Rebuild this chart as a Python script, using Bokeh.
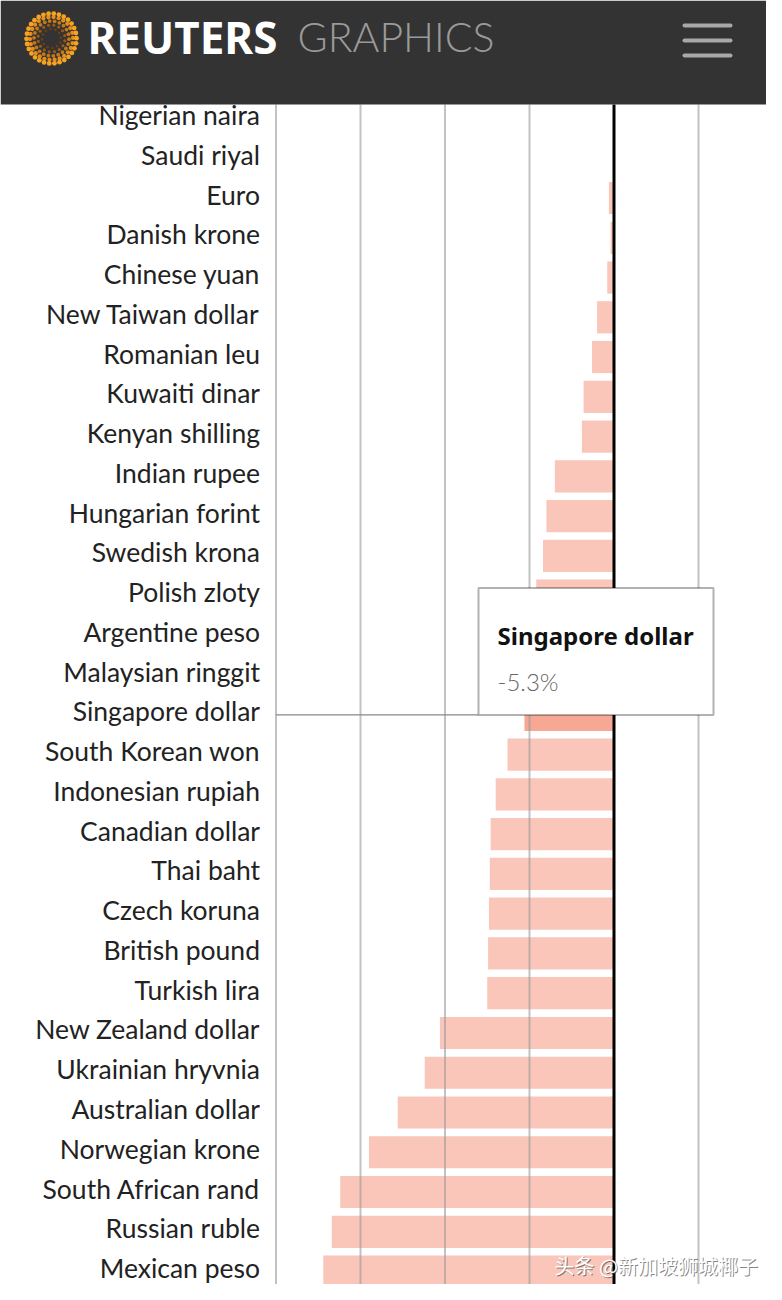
import numpy as np
from bokeh.plotting import figure
from bokeh.models import Range1d, BoxAnnotation, Label, ColumnDataSource
from bokeh.core.properties import value
from bokeh.embed import file_html
from bokeh.resources import INLINE

# ---------------- data ----------------
categories = [
    "Nigerian naira", "Saudi riyal", "Euro", "Danish krone", "Chinese yuan",
    "New Taiwan dollar", "Romanian leu", "Kuwaiti dinar", "Kenyan shilling",
    "Indian rupee", "Hungarian forint", "Swedish krona", "Polish zloty",
    "Argentine peso", "Malaysian ringgit", "Singapore dollar", "South Korean won",
    "Indonesian rupiah", "Canadian dollar", "Thai baht", "Czech koruna",
    "British pound", "Turkish lira", "New Zealand dollar", "Ukrainian hryvnia",
    "Australian dollar", "Norwegian krone", "South African rand", "Russian ruble",
    "Mexican peso",
]
values = [
    0.0, 0.0, -0.3, -0.2, -0.4,
    -1.0, -1.3, -1.8, -1.9,
    -3.5, -4.0, -4.2, -4.6,
    -4.9, -5.1, -5.3, -6.3,
    -7.0, -7.3, -7.35, -7.4,
    -7.45, -7.5, -10.3, -11.2,
    -12.8, -14.5, -16.2, -16.7,
    -17.2,
]
grid_ticks = [-20, -15, -10, -5, 5]
highlight = "Singapore dollar"

BAR = "#f9c6b9"
BAR_HI = "#f6a894"

W, H = 766, 1284
PX = 16.9            # pixels per percentage point
ZERO_PX = 621.5      # page x of the zero line
ROW0_PX = 126.0      # page y of the first row centre
ROW_PX = 39.76       # pixels per row
HEADER_BOTTOM = 112  # page y where the header ends


def sx(px):  # page x -> data x
    return (px - ZERO_PX) / PX


def sy(py):  # page y -> row units
    return (py - ROW0_PX) / ROW_PX


x0, x1 = sx(8), sx(8 + W)
y_top, y_bot = sy(8), sy(8 + H)

p = figure(width=W, height=H, x_range=Range1d(x0, x1), y_range=Range1d(y_bot, y_top),
           output_backend="svg", toolbar_location=None, min_border=0,
           background_fill_color="white", border_fill_color="white")
p.outline_line_color = None
p.axis.visible = False
p.grid.visible = False

idx = list(range(len(categories)))
colors = [BAR_HI if c == highlight else BAR for c in categories]
src = ColumnDataSource(dict(y=idx, left=values, right=[0] * len(values), color=colors,
                            name=categories))

# bars
p.hbar(y="y", left="left", right="right", height=0.81, fill_color="color",
       line_color=None, source=src)

# vertical grid lines (drawn above bars, like the original)
chart_top = sy(HEADER_BOTTOM)
p.segment(x0=grid_ticks, x1=grid_ticks, y0=[chart_top] * len(grid_ticks),
          y1=[y_bot] * len(grid_ticks), line_color="#999999", line_alpha=0.6, line_width=2)
# zero line
p.segment(x0=[0], x1=[0], y0=[chart_top], y1=[y_bot], line_color="black", line_width=3)

# category labels
p.text(x=grid_ticks[0], y="y", text="name", source=src, x_offset=-16, y_offset=-3.5,
       text_align="right", text_baseline="middle", text_font=value("Lato"),
       text_font_size="26.5px", text_color="#222222")

# ---------------- header ----------------
p.quad(left=[x0], right=[x1], top=[y_top], bottom=[chart_top], fill_color="#333333",
       line_color=None)

cx, cy = 59, 46
lx, ly, ls, lc = [], [], [], []
ring_r = [9.5, 13.5, 17.5, 21.5, 25.0]
ring_n = [12, 16, 22, 26, 30]
ring_s = [2.6, 3.2, 3.8, 4.3, 4.8]
ring_c = ["#6b3f12", "#9a5a14", "#c47818", "#e28d1c", "#f5a321"]
for r, n, s, c in zip(ring_r, ring_n, ring_s, ring_c):
    ang = np.linspace(0, 2 * np.pi, n, endpoint=False) + r * 0.1
    lx += [sx(v) for v in cx + r * np.cos(ang)]
    ly += [sy(v) for v in cy + r * np.sin(ang)]
    ls += [s] * n
    lc += [c] * n
p.scatter(x=lx, y=ly, size=ls, color=lc, line_color=None)

p.text(x=[sx(95)], y=[sy(44)], text=["REUTERS"], text_color="white",
       text_font=value("Noto Sans"), text_font_style="bold", text_font_size="44px",
       text_baseline="middle")
p.text(x=[sx(305)], y=[sy(44)], text=["GRAPHICS"], text_color="#9a9a9a",
       text_font=value("Lato Light, Roboto Light, Lato, sans-serif"),
       text_font_size="41px", text_baseline="middle")
hy = [sy(33), sy(48), sy(63)]
p.segment(x0=[sx(692)] * 3, x1=[sx(738)] * 3, y0=hy, y1=hy,
          line_color="#a8a8a8", line_width=4, line_cap="round")

# ---------------- hover tooltip state ----------------
hi = categories.index(highlight)
hv = values[hi]
tip_left, tip_right = sx(486), sx(721)
tip_top = hi - 3.19
p.segment(x0=[grid_ticks[0]], x1=[tip_left], y0=[hi], y1=[hi],
          line_color="#888888", line_width=1.2)
p.add_layout(BoxAnnotation(left=tip_left, right=tip_right, top=tip_top, bottom=hi,
                           fill_color="white", fill_alpha=1.0, line_color="black",
                           line_width=2, level="annotation"))
p.add_layout(Label(x=tip_left, y=hi - 2.0, x_offset=19, text=highlight,
                   text_font="Noto Sans", text_font_style="bold", text_font_size="24px",
                   text_color="#111111", text_baseline="alphabetic"))
p.add_layout(Label(x=tip_left, y=hi - 0.84, x_offset=19, text=f"{hv:.1f}%",
                   text_font="Lato Light, Roboto Light, Lato, sans-serif",
                   text_font_size="24px", text_color="#666666", text_baseline="alphabetic"))

# ---------------- watermark ----------------
wm = "头条 @新加坡狮城椰子"
wx, wy = sx(562), sy(1273)
p.add_layout(Label(x=wx, y=wy, x_offset=1, y_offset=-1, text=wm,
                   text_font="Noto Sans CJK SC", text_font_size="20px",
                   text_color="#333333", text_alpha=0.6, text_baseline="middle"))
p.add_layout(Label(x=wx, y=wy, text=wm, text_font="Noto Sans CJK SC",
                   text_font_size="20px", text_color="white", text_baseline="middle"))

open("out.html", "w").write(file_html(p, INLINE))
